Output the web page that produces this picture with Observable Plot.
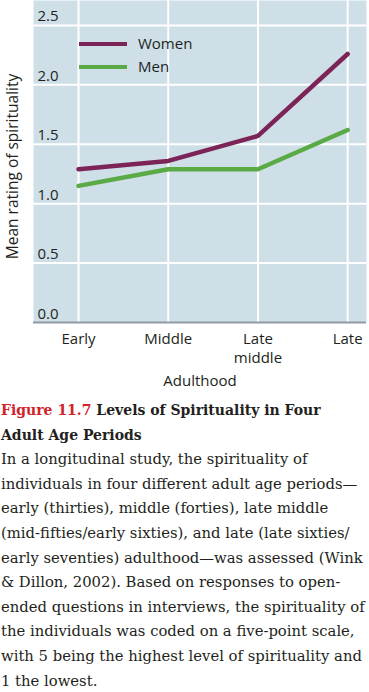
<!DOCTYPE html>
<html>
<head>
<meta charset="utf-8">
<script src="https://cdn.jsdelivr.net/npm/d3@7"></script>
<script src="https://cdn.jsdelivr.net/npm/@observablehq/plot@0.6"></script>
<style>
  html, body { margin: 0; padding: 0; background: #fff; }
  #wrap { position: relative; width: 369px; height: 398px; }
  #legend { position: absolute; left: 0; top: 0; font-family: "Open Sans", sans-serif; font-size: 15px; color: #231f20; }
  .lg { position: absolute; white-space: nowrap; }
  .sw { position: absolute; width: 48px; height: 4.5px; }
  .cap { font-family: "DejaVu Serif", serif; font-size: 14.8px; line-height: 24.6px; color: #231f20; padding-left: 1px; white-space: nowrap; }
  .cap .t { font-weight: bold; font-size: 14px; }
  .cap .red { color: #d2232a; }
</style>
</head>
<body>
<div id="wrap"></div>
<script>
const periods = ["Early", "Middle", "Late\nmiddle", "Late"];
const women = [1.29, 1.36, 1.57, 2.26];
const men = [1.15, 1.29, 1.29, 1.62];
const yTicks = [0, 0.5, 1.0, 1.5, 2.0, 2.5];
const seriesNames = ["Women", "Men"];
const seriesColors = ["#7c2457", "#5aab45"];

const rows = [];
periods.forEach((p, i) => {
  rows.push({i, period: p, series: "Women", value: women[i]});
  rows.push({i, period: p, series: "Men", value: men[i]});
});
const idx = periods.map((p, i) => i);

const font = "'Open Sans', sans-serif";
const chart = Plot.plot({
  width: 369,
  height: 398,
  marginLeft: 33,
  marginRight: 3,
  marginTop: 0,
  marginBottom: 76,
  style: {fontFamily: font, color: "#231f20", background: "transparent"},
  x: {type: "linear", domain: [-0.502, 3.21], axis: null},
  y: {domain: [0, 2.71], axis: null},
  color: {domain: seriesNames, range: seriesColors},
  marks: [
    Plot.frame({fill: "#cedfe8", stroke: null}),
    Plot.ruleY(yTicks.slice(1), {stroke: "white", strokeWidth: 2}),
    Plot.ruleX(idx, {x: d => d, stroke: "white", strokeWidth: 2}),
    Plot.ruleY([0], {stroke: "#8f9ba2", strokeWidth: 2}),
    Plot.text(yTicks, {y: d => d, frameAnchor: "left", textAnchor: "start", lineAnchor: "bottom", dx: 4, dy: -4, text: d => d.toFixed(1), fontSize: 15, fill: "#231f20"}),
    Plot.text(idx, {x: d => d, frameAnchor: "bottom", lineAnchor: "top", dy: 8, text: d => periods[d], fontSize: 15, lineHeight: 1.27, fill: "#231f20"}),
    Plot.text(["Adulthood"], {frameAnchor: "bottom", textAnchor: "middle", dy: 63, text: d => d, fontSize: 15, fill: "#231f20"}),
    Plot.text(["Mean rating of spirituality"], {frameAnchor: "left", textAnchor: "middle", rotate: -90, dx: -20, dy: 5, text: d => d, fontSize: 15.5, fill: "#231f20"}),
    Plot.line(rows, {x: "i", y: "value", z: "series", stroke: "series", strokeWidth: 4.5, strokeLinejoin: "miter"})
  ]
});

const wrap = document.getElementById("wrap");
wrap.appendChild(chart);

const legend = document.createElement("div");
legend.id = "legend";
seriesNames.forEach((n, k) => {
  const top = 44 + k * 23;
  const sw = document.createElement("div");
  sw.className = "sw";
  sw.style.left = "79px";
  sw.style.top = (top - 2.25) + "px";
  sw.style.background = seriesColors[k];
  legend.appendChild(sw);
  const t = document.createElement("div");
  t.className = "lg";
  t.style.left = "138px";
  t.style.top = (top - 11) + "px";
  t.textContent = n;
  legend.appendChild(t);
});
wrap.appendChild(legend);

const cap = document.createElement("div");
cap.className = "cap";
cap.innerHTML = '<span class="t"><span class="red">Figure 11.7</span> Levels of Spirituality in Four<br>Adult Age Periods</span><br>' +
  'In a longitudinal study, the spirituality of<br>' +
  'individuals in four different adult age periods\u2014<br>' +
  'early (thirties), middle (forties), late middle<br>' +
  '(mid-fifties/early sixties), and late (late sixties/<br>' +
  'early seventies) adulthood\u2014was assessed (Wink<br>' +
  '&amp; Dillon, 2002). Based on responses to open-<br>' +
  'ended questions in interviews, the spirituality of<br>' +
  'the individuals was coded on a five-point scale,<br>' +
  'with 5 being the highest level of spirituality and<br>' +
  '1 the lowest.';
document.body.appendChild(cap);
</script>
</body>
</html>
